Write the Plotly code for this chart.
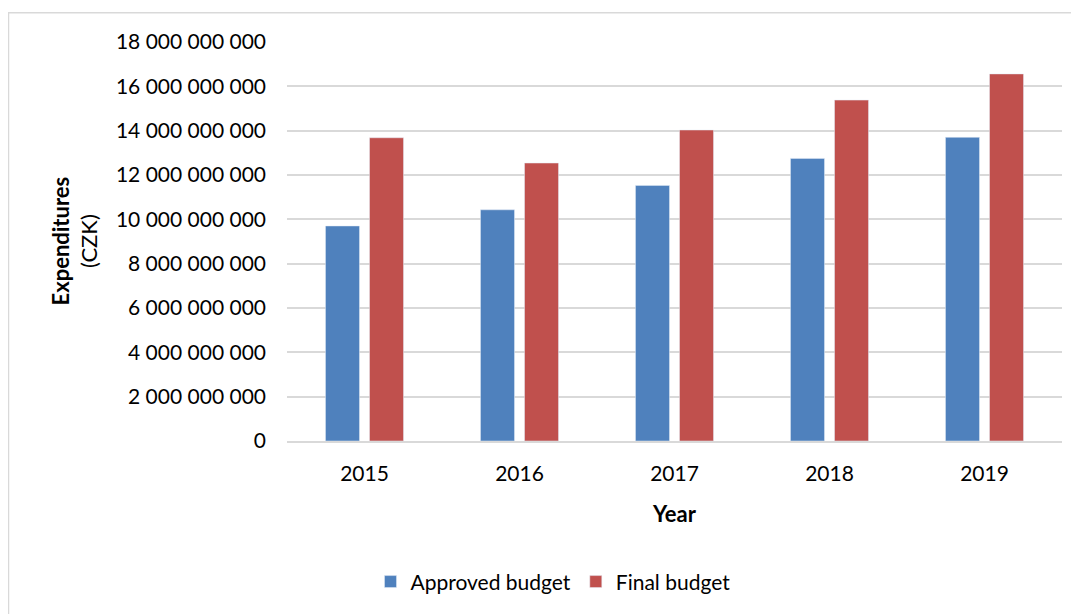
import plotly.graph_objects as go

years = ["2015", "2016", "2017", "2018", "2019"]
approved = [9.70e9, 10.43e9, 11.53e9, 12.75e9, 13.70e9]
final = [13.68e9, 12.54e9, 14.03e9, 15.38e9, 16.56e9]
y_ticks = [0, 2e9, 4e9, 6e9, 8e9, 10e9, 12e9, 14e9, 16e9, 18e9]
y_labels = ["0", "2 000 000 000", "4 000 000 000", "6 000 000 000", "8 000 000 000",
            "10 000 000 000", "12 000 000 000", "14 000 000 000", "16 000 000 000",
            "18 000 000 000"]

FONT = "Lato"
OFF = 8  # page body margin
W, H = 1079 - OFF, 614 - OFF
# plot area in window coords: x 287..1062, y 42..444
L = 287 - OFF
R = W - (1062 - OFF)
T = 42 - OFF
B = H - (444 - OFF)
pw, ph = W - L - R, H - T - B

def px(x):  # window x -> paper
    return (x - OFF - L) / pw

def py(y):  # window y -> paper
    return (H - B - (y - OFF)) / ph

fig = go.Figure()
fig.add_trace(go.Bar(x=years, y=approved, name="Approved budget",
                     marker=dict(color="#4F81BD")))
fig.add_trace(go.Bar(x=years, y=final, name="Final budget",
                     marker=dict(color="#C0504D")))

fig.update_layout(
    width=W, height=H,
    margin=dict(l=L, r=R, t=T, b=B),
    paper_bgcolor="white", plot_bgcolor="white",
    barmode="group", bargap=0.432, bargroupgap=0.227,
    font=dict(family=FONT, size=21, color="#000000"),
    showlegend=True,
    legend=dict(orientation="h", x=px(553), xanchor="center", y=py(586), yanchor="middle",
                font=dict(family=FONT, size=21), traceorder="normal"),
    xaxis=dict(showline=True, linecolor="#D9D9D9", linewidth=1.5, showgrid=False,
               ticks="", ticklabelstandoff=13,
               tickfont=dict(family=FONT, size=21),
               title=dict(text="<b>Year</b>", font=dict(family=FONT, size=22), standoff=23)),
    yaxis=dict(range=[0, 18e9], tickvals=y_ticks, ticktext=y_labels,
               showgrid=True, gridcolor="#D9D9D9", gridwidth=1.5,
               zeroline=False, showline=False, ticks="", ticklabelstandoff=20,
               tickfont=dict(family=FONT, size=21)),
    annotations=[
        dict(text="<b>Expenditures</b><br>(CZK)", xref="paper", yref="paper",
             x=px(74), y=py(243), xanchor="center", yanchor="middle", textangle=-90,
             showarrow=False, font=dict(family=FONT, size=22)),
    ],
    shapes=[
        dict(type="rect", xref="paper", yref="paper",
             x0=px(8.5), x1=px(1077), y0=py(640), y1=py(12.5),
             line=dict(color="#D9D9D9", width=1.5), fillcolor="rgba(0,0,0,0)", layer="below"),
    ],
)

fig.write_html("out.html")
